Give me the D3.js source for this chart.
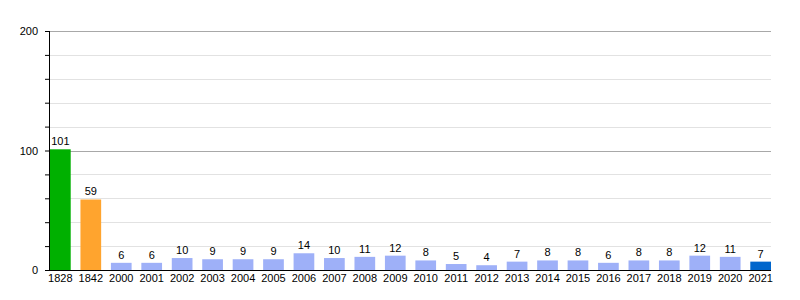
<!DOCTYPE html>
<html>
<head>
<meta charset="utf-8">
<script src="https://cdn.jsdelivr.net/npm/d3@7"></script>
<style>
  html, body { margin: 0; padding: 0; background: #fff; }
  svg { display: block; }
</style>
</head>
<body>
<svg id="chart"></svg>
<script>
const years = ["1828", "1842", "2000", "2001", "2002", "2003", "2004", "2005", "2006", "2007", "2008", "2009",
  "2010", "2011", "2012", "2013", "2014", "2015", "2016", "2017", "2018", "2019", "2020", "2021"];
const counts = [101, 59, 6, 6, 10, 9, 9, 9, 14, 10, 11, 12, 8, 5, 4, 7, 8, 8, 6, 8, 8, 12, 11, 7];
const barColors = ["#00b000", "#ffa42e"];
const defaultColor = "#9eb0f8";
const lastColor = "#0066cc";
const majorTicks = [0, 100, 200];
const minorTicks = [20, 40, 60, 80, 120, 140, 160, 180];

const W = 800, H = 300;
const m = { top: 31, right: 29, bottom: 30, left: 50 };
const font = "'Liberation Sans', Arial, sans-serif";

const svg = d3.select("#chart").attr("width", W).attr("height", H);

const x = d3.scaleBand().domain(years).range([m.left, W - m.right])
  .paddingInner(0.32).paddingOuter(0);
const y = d3.scaleLinear().domain([0, 200]).range([H - m.bottom, m.top]);

const colorOf = (d, i) => i < barColors.length ? barColors[i] : (i === years.length - 1 ? lastColor : defaultColor);

// Grid
svg.append("g").selectAll("line")
  .data(minorTicks).join("line")
  .attr("x1", m.left).attr("x2", W - m.right)
  .attr("y1", d => Math.round(y(d)) + 0.5).attr("y2", d => Math.round(y(d)) + 0.5)
  .attr("stroke", "#e2e2e2");
svg.append("g").selectAll("line")
  .data(majorTicks.slice(1)).join("line")
  .attr("x1", m.left).attr("x2", W - m.right)
  .attr("y1", d => Math.round(y(d)) + 0.5).attr("y2", d => Math.round(y(d)) + 0.5)
  .attr("stroke", "#a8a8a8");

// Bars
svg.append("g").selectAll("rect")
  .data(counts).join("rect")
  .attr("x", (d, i) => x(years[i]))
  .attr("y", d => y(d))
  .attr("width", x.bandwidth())
  .attr("height", d => y(0) - y(d))
  .attr("fill", colorOf);

// Value labels
svg.append("g").selectAll("text")
  .data(counts).join("text")
  .attr("x", (d, i) => x(years[i]) + x.bandwidth() / 2)
  .attr("y", d => y(d) - 4)
  .attr("text-anchor", "middle")
  .style("font-family", font).style("font-size", "11px").style("fill", "#000")
  .text(d => d);

// Y axis
svg.append("g")
  .attr("transform", `translate(${m.left},0)`)
  .call(d3.axisLeft(y).tickValues(majorTicks.concat(minorTicks)).tickSize(5)
    .tickFormat(d => majorTicks.includes(d) ? d : ""))
  .call(ax => {
    ax.select(".domain").attr("stroke", "#000").attr("d", `M-0.5,${y(200)}V${y(0)}`);
    ax.selectAll(".tick line").attr("stroke", "#000");
    ax.selectAll(".tick text").attr("x", -12)
      .style("font-family", font).style("font-size", "11px").style("fill", "#000");
  });

// X axis
svg.append("g")
  .attr("transform", `translate(0,${y(0)})`)
  .call(d3.axisBottom(x).tickSize(0).tickPadding(4))
  .call(ax => {
    ax.select(".domain").attr("stroke", "#000").attr("d", `M${m.left - 4},0.5H${W - m.right}`);
    ax.selectAll(".tick text")
      .style("font-family", font).style("font-size", "11px").style("fill", "#000");
  });
</script>
</body>
</html>
